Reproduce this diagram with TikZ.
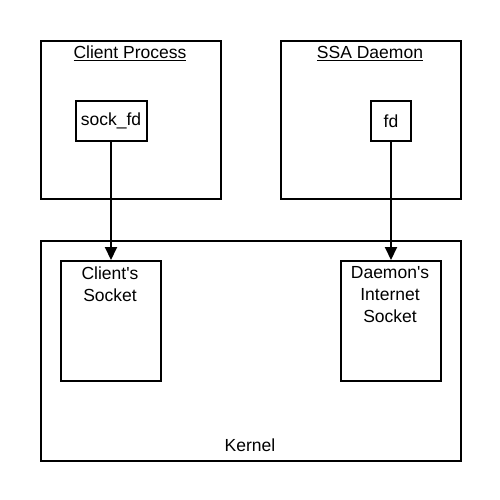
\documentclass[tikz,border=0pt]{standalone}
\usepackage{fontspec}
\setmainfont{Liberation Sans}
\usetikzlibrary{arrows.meta}
\begin{document}
\begin{tikzpicture}[x=1pt,y=-1pt,
  box/.style={draw,line width=2pt,inner sep=0pt,anchor=north west},
  lbl/.style={font=\fontsize{17.5}{22}\selectfont,inner sep=0pt,align=center},
  arr/.style={line width=2pt,-{Triangle[length=13pt,width=12pt]}}]
\useasboundingbox[fill=white] (0,0) rectangle (500,500);
% containers
\node[box,minimum width=180pt,minimum height=158pt] (cp) at (40,40) {};
\node[box,minimum width=180pt,minimum height=158pt] (sd) at (280,40) {};
\node[box,minimum width=420pt,minimum height=220pt] (k) at (40,240) {};
% titles
\node[lbl,anchor=base] (cpt) at (130,59) {\underline{Client Process}};
\node[lbl,anchor=base] (sdt) at (370,59) {\underline{SSA Daemon}};
\node[lbl,anchor=base] (kt) at (250,451) {Kernel};
% inner boxes
\node[box,lbl,minimum width=71pt,minimum height=40pt] (sf) at (74.5,100) {sock\_fd};
\node[box,lbl,minimum width=40pt,minimum height=40pt] (fd) at (370,100) {fd};
\node[box,minimum width=100pt,minimum height=120pt] (cs) at (60,260) {};
\node[box,minimum width=100pt,minimum height=120pt] (ds) at (340,260) {};
\node[lbl,anchor=north] (cst) at (110,266.5) {Client\textquotesingle s\\Socket};
\node[lbl,anchor=north] (dst) at (390,266.5) {Daemon\textquotesingle s\\Internet\\Socket};
% arrows
\draw[arr] (sf.south) -- (cs.north);
\draw[arr] (fd.south) -- (ds.north);
\end{tikzpicture}
\end{document}
